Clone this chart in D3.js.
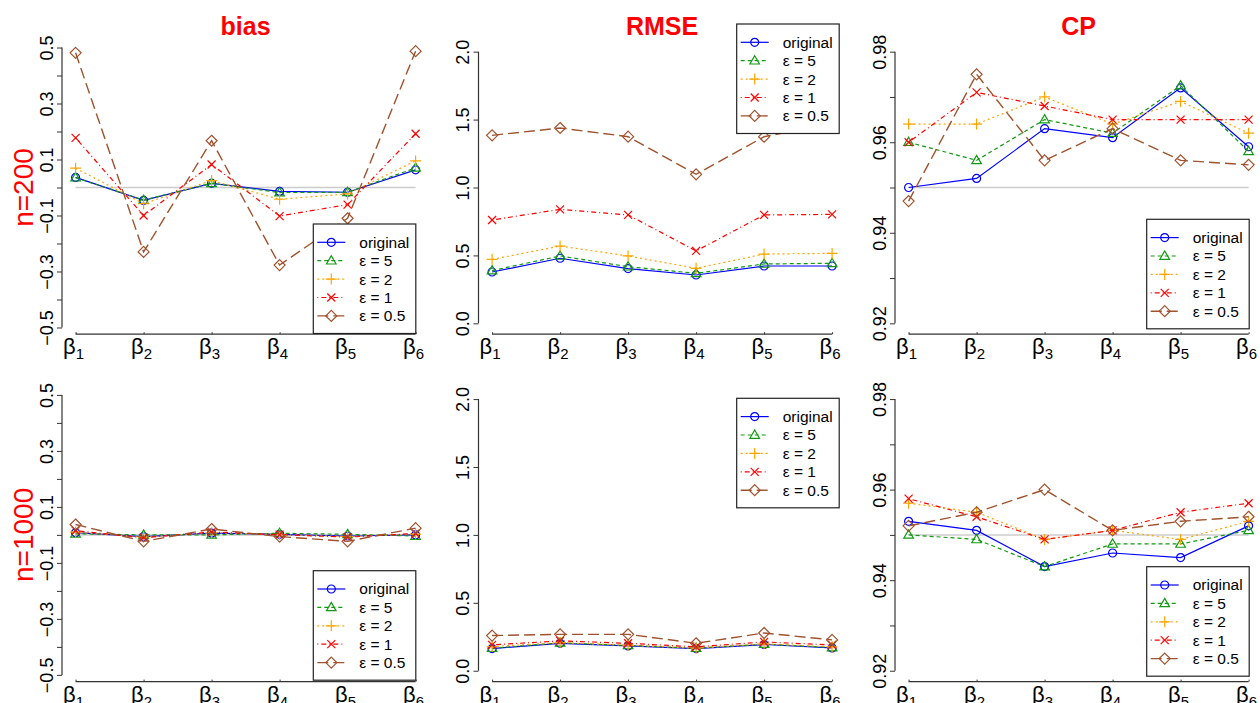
<!DOCTYPE html>
<html>
<head>
<meta charset="utf-8">
<script src="https://cdn.jsdelivr.net/npm/d3@7"></script>
<style>
  body { margin: 0; background: #fff; }
  svg { display: block; font-family: "Liberation Sans", Arial, sans-serif; }
</style>
</head>
<body>
<div id="container"></div>
<script>
/* CONSTANTS AND GLOBALS */
const width = 1260;
const height = 703;

// data
const params = [1, 2, 3, 4, 5, 6];
const seriesNames = ["original", "ε = 5", "ε = 2", "ε = 1", "ε = 0.5"];
const panelTitles = ["bias", "RMSE", "CP"];
const rowLabels = ["n=200", "n=1000"];

const bias200 = [
  [0.036, -0.046, 0.015, -0.014, -0.017, 0.063],
  [0.035, -0.045, 0.015, -0.018, -0.017, 0.070],
  [0.069, -0.058, 0.025, -0.042, -0.023, 0.095],
  [0.177, -0.100, 0.082, -0.102, -0.061, 0.192],
  [0.481, -0.230, 0.167, -0.277, -0.110, 0.487]
];
const rmse200 = [
  [0.378, 0.479, 0.403, 0.356, 0.422, 0.422],
  [0.388, 0.496, 0.417, 0.368, 0.437, 0.442],
  [0.471, 0.569, 0.496, 0.405, 0.510, 0.515],
  [0.761, 0.839, 0.798, 0.533, 0.798, 0.802],
  [1.384, 1.438, 1.374, 1.097, 1.374, 1.472]
];
const cp200 = [
  [0.950, 0.952, 0.963, 0.961, 0.972, 0.959],
  [0.960, 0.956, 0.965, 0.962, 0.9725, 0.958],
  [0.964, 0.964, 0.970, 0.964, 0.969, 0.962],
  [0.960, 0.971, 0.968, 0.965, 0.965, 0.965],
  [0.947, 0.975, 0.956, 0.963, 0.956, 0.955]
];
const bias1000 = [
  [0.008, -0.006, 0.006, 0.002, -0.004, 0.000],
  [0.004, 0.000, 0.000, 0.006, 0.002, -0.004],
  [0.010, -0.008, 0.008, 0.001, -0.006, 0.003],
  [0.015, -0.010, 0.010, 0.001, -0.008, 0.005],
  [0.037, -0.023, 0.021, -0.006, -0.023, 0.024]
];
const rmse1000 = [
  [0.163, 0.202, 0.183, 0.163, 0.193, 0.168],
  [0.166, 0.205, 0.186, 0.166, 0.196, 0.171],
  [0.178, 0.207, 0.188, 0.166, 0.198, 0.176],
  [0.190, 0.220, 0.202, 0.176, 0.212, 0.190],
  [0.259, 0.268, 0.268, 0.202, 0.278, 0.227]
];
const cp1000 = [
  [0.953, 0.951, 0.943, 0.946, 0.945, 0.952],
  [0.950, 0.949, 0.943, 0.948, 0.948, 0.951],
  [0.957, 0.955, 0.949, 0.951, 0.949, 0.953],
  [0.958, 0.954, 0.949, 0.951, 0.955, 0.957],
  [0.952, 0.955, 0.960, 0.951, 0.953, 0.954]
];

const biasTicks = [-0.5, -0.4, -0.3, -0.2, -0.1, 0, 0.1, 0.2, 0.3, 0.4, 0.5];
const biasLabels = [-0.5, -0.3, -0.1, 0.1, 0.3, 0.5];
const rmseTicks = [0, 0.5, 1, 1.5, 2];
const rmseLabels = [0, 0.5, 1, 1.5, 2];
const cpTicks = [0.92, 0.93, 0.94, 0.95, 0.96, 0.97, 0.98];
const cpLabels = [0.92, 0.94, 0.96, 0.98];

// styles
const colors = ["#0000ff", "#119a11", "#ffa500", "#ff0000", "#a0522d"];
const dashes = [null, "4,3", "2,3", "1,3,5,3", "11,5"];
const lineWidths = [1.2, 1.2, 1.2, 1.2, 1.4];
const shapes = [
  "M4,0A4,4 0 1,1 -4,0A4,4 0 1,1 4,0Z",
  "M0,-5L4.8,3.3L-4.8,3.3Z",
  "M-5.5,0H5.5M0,-5.5V5.5",
  "M-4,-4L4,4M-4,4L4,-4",
  "M0,-5.5L5.5,0L0,5.5L-5.5,0Z"
];

// layout
const rows = [{ top: 40.8, bottom: 334.2 }, { top: 388.2, bottom: 681.6 }];
const colLeft = [62, 478.5, 895];
const colUnit = 68;
const legendLeft = [313.3, 736.7, 1146.7];
const legendTop = [[224, 24, 219.3], [570.7, 398.3, 566.7]];
const legendW = 102.5, legendH = 109.5;

const panels = [
  { row: 0, col: 0, data: bias200, dom: [-0.524, 0.524], ticks: biasTicks, labs: biasLabels, fmt: d3.format(".1f"), ref: 0 },
  { row: 0, col: 1, data: rmse200, dom: [-0.08, 2.08], ticks: rmseTicks, labs: rmseLabels, fmt: d3.format(".1f"), ref: null },
  { row: 0, col: 2, data: cp200, dom: [0.9176, 0.9824], ticks: cpTicks, labs: cpLabels, fmt: d3.format(".2f"), ref: 0.95 },
  { row: 1, col: 0, data: bias1000, dom: [-0.524, 0.524], ticks: biasTicks, labs: biasLabels, fmt: d3.format(".1f"), ref: 0 },
  { row: 1, col: 1, data: rmse1000, dom: [-0.08, 2.08], ticks: rmseTicks, labs: rmseLabels, fmt: d3.format(".1f"), ref: null },
  { row: 1, col: 2, data: cp1000, dom: [0.9176, 0.9824], ticks: cpTicks, labs: cpLabels, fmt: d3.format(".2f"), ref: 0.95 }
];

const minus = s => s.replace("-", "\u2212");

/* CREATE SVG ELEMENT */
const svg = d3.select("#container")
  .append("svg")
  .attr("width", width)
  .attr("height", height);

panels.forEach(p => {
  const r = rows[p.row];
  const left = colLeft[p.col];
  const x = d3.scaleLinear().domain([0.8, 6.2]).range([left, left + colUnit * 5.4]);
  const y = d3.scaleLinear().domain(p.dom).range([r.bottom, r.top]);
  const g = svg.append("g");

  // y axis (R style: line only from first to last tick)
  const yAxis = g.append("g")
    .attr("transform", "translate(" + left + ",0)")
    .call(d3.axisLeft(y)
      .tickValues(p.ticks)
      .tickSize(5)
      .tickFormat(d => p.labs.some(l => Math.abs(l - d) < 1e-9) ? minus(p.fmt(d)) : ""));
  yAxis.select(".domain").remove();
  yAxis.selectAll(".tick line").attr("stroke", "#333");
  yAxis.selectAll(".tick text")
    .attr("transform", "rotate(-90)")
    .attr("x", 0)
    .attr("y", -9.5)
    .attr("dy", 0)
    .attr("text-anchor", "middle")
    .attr("fill", "#000")
    .style("font-size", "18px")
    .style("font-family", "'Liberation Sans', Arial, sans-serif");
  g.append("line")
    .attr("x1", left).attr("x2", left)
    .attr("y1", y(d3.min(p.ticks))).attr("y2", y(d3.max(p.ticks)))
    .attr("stroke", "#333").attr("stroke-width", 1.2);

  // x axis
  const xAxis = g.append("g")
    .attr("transform", "translate(0," + r.bottom + ")")
    .call(d3.axisBottom(x).tickValues(params).tickSize(-2).tickFormat(""));
  xAxis.select(".domain").remove();
  xAxis.selectAll(".tick line").attr("stroke", "#333");
  g.append("line")
    .attr("x1", x(1)).attr("x2", x(6))
    .attr("y1", r.bottom).attr("y2", r.bottom)
    .attr("stroke", "#333").attr("stroke-width", 1.2);
  const bl = g.selectAll(".blab").data(params).join("text")
    .attr("class", "blab")
    .attr("x", d => x(d) - 2)
    .attr("y", r.bottom + 20)
    .attr("text-anchor", "middle")
    .style("font-size", "22px");
  bl.append("tspan").text("β");
  bl.append("tspan").attr("dy", 5).style("font-size", "15px").text(d => d);

  // reference line
  if (p.ref !== null) {
    g.append("line")
      .attr("x1", x(1)).attr("x2", x(6))
      .attr("y1", y(p.ref)).attr("y2", y(p.ref))
      .attr("stroke", "#cccccc").attr("stroke-width", 1.5);
  }

  // lines and points
  const line = d3.line().x((d, i) => x(params[i])).y(d => y(d));
  p.data.forEach((vals, k) => {
    g.append("path")
      .datum(vals)
      .attr("fill", "none")
      .attr("stroke", colors[k])
      .attr("stroke-width", lineWidths[k])
      .attr("stroke-dasharray", dashes[k])
      .attr("d", line);
    g.selectAll(".pt" + k).data(vals).join("path")
      .attr("class", "pt" + k)
      .attr("transform", (d, i) => "translate(" + x(params[i]) + "," + y(d) + ")")
      .attr("d", shapes[k])
      .attr("fill", "none")
      .attr("stroke", colors[k])
      .attr("stroke-width", 1.2);
  });

  // legend
  const lx = legendLeft[p.col], ly = legendTop[p.row][p.col];
  const leg = g.append("g").attr("transform", "translate(" + lx + "," + ly + ")");
  leg.append("rect")
    .attr("width", legendW).attr("height", legendH)
    .attr("fill", "#fff").attr("stroke", "#222").attr("stroke-width", 1.2);
  seriesNames.forEach((name, k) => {
    const yy = 18.3 + k * 18.4;
    leg.append("line")
      .attr("x1", 4).attr("x2", 32).attr("y1", yy).attr("y2", yy)
      .attr("stroke", colors[k]).attr("stroke-width", lineWidths[k])
      .attr("stroke-dasharray", dashes[k]);
    leg.append("path")
      .attr("transform", "translate(18," + yy + ")")
      .attr("d", shapes[k])
      .attr("fill", "none").attr("stroke", colors[k]).attr("stroke-width", 1.2);
    leg.append("text")
      .attr("x", 46).attr("y", yy + 5.5)
      .style("font-size", "15.5px")
      .text(name);
  });
});

// panel titles
panelTitles.forEach((t, i) => {
  svg.append("text")
    .attr("x", colLeft[i] + colUnit * 2.7)
    .attr("y", 35)
    .attr("text-anchor", "middle")
    .attr("fill", "#ff0000")
    .style("font-size", "25px")
    .style("font-weight", "bold")
    .text(t);
});

// row labels
rowLabels.forEach((t, i) => {
  const cy = (rows[i].top + rows[i].bottom) / 2;
  svg.append("text")
    .attr("transform", "translate(33," + cy + ") rotate(-90)")
    .attr("text-anchor", "middle")
    .attr("fill", "#ff0000")
    .style("font-size", "28px")
    .text(t);
});
</script>
</body>
</html>
